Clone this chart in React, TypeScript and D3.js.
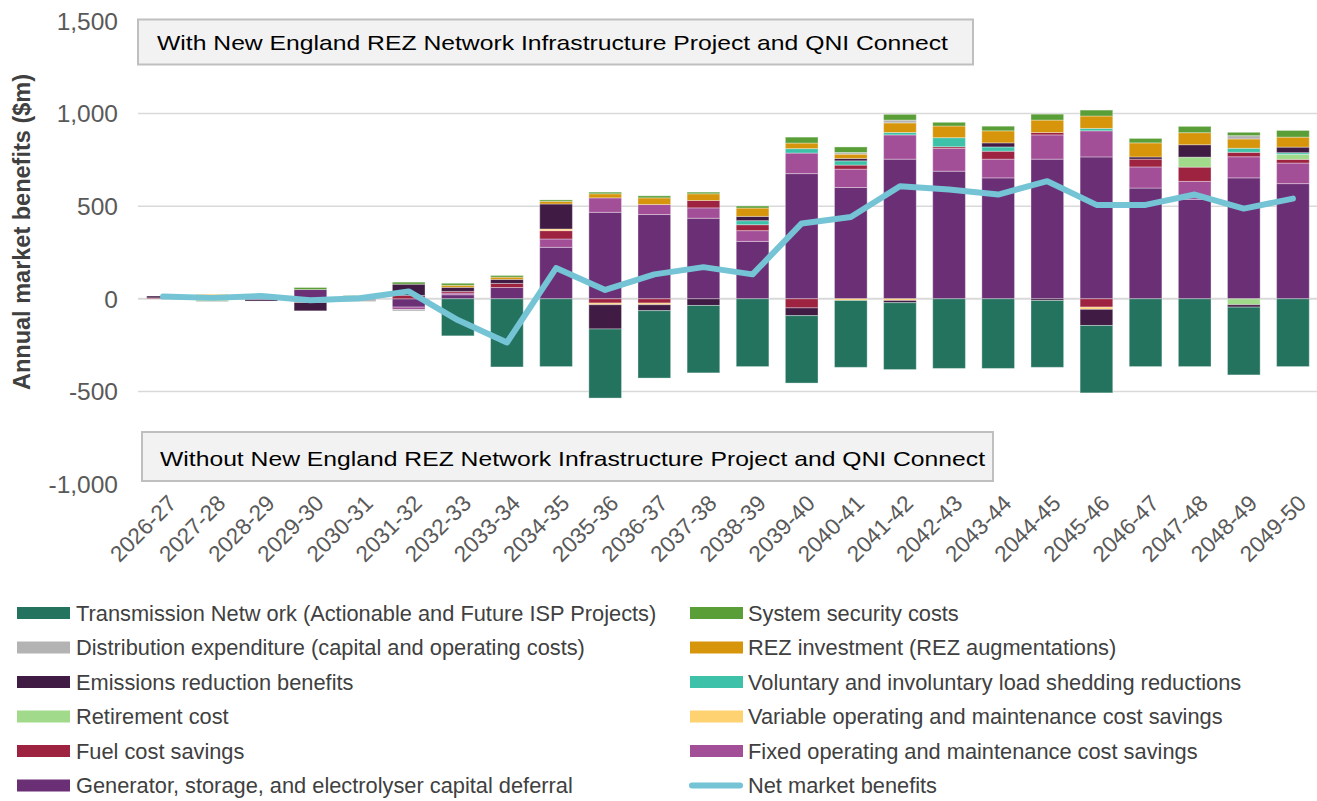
import React from "react";
import * as d3 from "d3";

const categories = ["2026-27","2027-28","2028-29","2029-30","2030-31","2031-32","2032-33","2033-34","2034-35","2035-36","2036-37","2037-38","2038-39","2039-40","2040-41","2041-42","2042-43","2043-44","2044-45","2045-46","2046-47","2047-48","2048-49","2049-50"];

const generator = [0, 0, -4, 50, 5, -45, 22, 61, 278, 467, 455, 435, 310, 676, 601, 754, 689, 653, 754, 766, 598, 537, 653, 622];
const fixedOM = [0, 0, 0, 0, 0, -13, 9, 0, 45, 78, 54, 56, 58, 111, 99, 131, 123, 101, 131, 141, 114, 97, 114, 111];
const fuel = [5, 0, 0, -15, 0, 18, 9, 22, 45, -23, -23, 40, 32, -49, 22, 0, 9, 43, 13, -45, 42, 77, 24, 20];
const variableOM = [0, 25, 0, -5, 0, 0, 0, 0, 9, -9, -9, 0, 0, 0, -9, -9, 0, 0, 0, -12, 0, 0, 0, 0];
const retirement = [0, -12, 0, 0, 0, 0, 0, 0, 0, 0, 0, 0, 0, 0, 0, 0, 0, 0, 0, 0, 0, 54, -32, 27];
const voluntary = [0, 0, 0, 0, 0, 0, 0, 0, 0, 0, 0, 0, 22, 24, 23, 13, 49, 23, 0, 13, 0, 0, 22, 9];
const emissions = [10, 0, -8, -45, -5, 61, 22, 22, 135, -131, -32, -36, 23, -42, 13, -12, 0, 22, -9, -87, 12, 67, -13, 30];
const rezInvestment = [0, 0, 0, 0, 0, 0, 11, 12, 14, 22, 36, 36, 45, 30, 23, 52, 63, 65, 67, 67, 76, 65, 50, 54];
const distribution = [0, -4, 0, 0, -10, -8, 0, 0, 0, 0, 0, 0, 0, 0, 9, 15, 0, 0, 0, 0, 0, 0, 18, 0];
const systemSecurity = [0, 0, 0, 11, 12, 11, 11, 9, 8, 9, 11, 9, 11, 32, 30, 31, 20, 25, 32, 32, 24, 34, 18, 36];
const transmission = [0, 0, 0, 0, 0, 0, -200, -368, -366, -373, -364, -364, -366, -364, -361, -361, -376, -376, -361, -364, -366, -366, -366, -366];
const netBenefits = [12, 5, 15, -8, 3, 40, -115, -236, 166, 48, 132, 171, 132, 407, 442, 608, 590, 563, 635, 507, 507, 563, 487, 541];

const yTicks = [-1000, -500, 0, 500, 1000, 1500];
const gridTicks = [-500, 0, 500, 1000];

const seriesDefs = [
  { key: "generator", label: "Generator, storage, and electrolyser capital deferral", color: "#6B2F76", values: generator },
  { key: "fixedOM", label: "Fixed operating and maintenance cost savings", color: "#A24F98", values: fixedOM },
  { key: "fuel", label: "Fuel cost savings", color: "#9D2340", values: fuel },
  { key: "variableOM", label: "Variable operating and maintenance cost savings", color: "#FFD271", values: variableOM },
  { key: "retirement", label: "Retirement cost", color: "#A0DA8A", values: retirement },
  { key: "voluntary", label: "Voluntary and involuntary load shedding reductions", color: "#3EC1A9", values: voluntary },
  { key: "emissions", label: "Emissions reduction benefits", color: "#401C44", values: emissions },
  { key: "rez", label: "REZ investment (REZ augmentations)", color: "#D6950A", values: rezInvestment },
  { key: "distribution", label: "Distribution expenditure (capital and operating costs)", color: "#B3B3B3", values: distribution },
  { key: "systemSecurity", label: "System security costs", color: "#5A9E37", values: systemSecurity },
  { key: "transmission", label: "Transmission Netw ork (Actionable and Future ISP Projects)", color: "#23735F", values: transmission },
];

const netColor = "#74C4D5";

const legendLeft = ["transmission", "distribution", "emissions", "retirement", "fuel", "generator"];
const legendRight = ["systemSecurity", "rez", "voluntary", "variableOM", "fixedOM", "net"];

const fmtTick = (t: number) => d3.format(",")(Math.abs(t)).replace(/^/, t < 0 ? "-" : "");

export default function App() {
  const W = 1317, H = 801;
  const x = d3.scaleBand<string>().domain(categories).range([138.5, 1317.5]).paddingInner(0.335).paddingOuter(0.1675);
  const y = d3.scaleLinear().domain([-1000, 1500]).range([484, 21]);

  const table = categories.map((c, i) => {
    const row: any = { cat: c };
    seriesDefs.forEach(s => { row[s.key] = s.values[i]; });
    return row;
  });
  const stack = d3.stack<any>().keys(seriesDefs.map(s => s.key)).offset(d3.stackOffsetDiverging);
  const stacked = stack(table);

  const line = d3.line<number>()
    .x((_, i) => (x(categories[i]) as number) + x.bandwidth() / 2)
    .y(d => y(d));

  const font = "'Liberation Sans', Arial, sans-serif";
  const rowY = (i: number) => 613 + i * 34.5;
  const defByKey: any = {};
  seriesDefs.forEach(s => (defByKey[s.key] = s));

  const renderLegendItem = (key: string, i: number, sx: number, tx: number) => {
    const cy = rowY(i);
    if (key === "net") {
      return (
        <g key={key}>
          <line x1={sx + 2} x2={sx + 50} y1={cy} y2={cy} stroke={netColor} strokeWidth={6} strokeLinecap="round" />
          <text x={tx} y={cy} dy="0.36em" fontSize={21.8} fill="#404040" fontFamily={font}>Net market benefits</text>
        </g>
      );
    }
    const d = defByKey[key];
    return (
      <g key={key}>
        <rect x={sx} y={cy - 6} width={53} height={12} fill={d.color} />
        <text x={tx} y={cy} dy="0.36em" fontSize={21.8} fill="#404040" fontFamily={font}>{d.label}</text>
      </g>
    );
  };

  return (
    <svg width={W} height={H} style={{ position: "absolute", left: 0, top: 0, background: "#fff" }} fontFamily={font}>
      {gridTicks.map(t => (
        <line key={t} x1={138} x2={1317} y1={y(t)} y2={y(t)} stroke="#D9D9D9" strokeWidth={t === 0 ? 2 : 1.5} />
      ))}
      {yTicks.map(t => (
        <text key={t} x={118} y={y(t)} dy="0.36em" textAnchor="end" fontSize={24.5} fill="#595959">{fmtTick(t)}</text>
      ))}
      <text transform="translate(30,232) rotate(-90)" textAnchor="middle" fontSize={23.5} fontWeight="bold" fill="#404040">Annual market benefits ($m)</text>

      {stacked.map(layer => {
        const def = defByKey[layer.key];
        return (
          <g key={layer.key}>
            {layer.map((d, i) => {
              const v = def.values[i];
              if (!v) return null;
              const y0 = y(d[0]), y1 = y(d[1]);
              return (
                <rect key={i} x={x(categories[i])} width={x.bandwidth()} y={Math.min(y0, y1)} height={Math.abs(y1 - y0)}
                  fill={def.color} stroke="#ffffff" strokeOpacity={0.35} strokeWidth={1} />
              );
            })}
          </g>
        );
      })}

      <path d={line(netBenefits) || ""} fill="none" stroke={netColor} strokeWidth={6} strokeLinejoin="round" strokeLinecap="round" />

      <g>
        <rect x={138} y={19.5} width={835} height={45} fill="#F2F2F2" stroke="#BFBFBF" strokeWidth={2} />
        <text x={157} y={42} dy="0.36em" fontSize={21} fill="#000" textLength={791} lengthAdjust="spacingAndGlyphs">With New England REZ Network Infrastructure Project and QNI Connect</text>
        <rect x={142} y={432} width={851} height={49} fill="#F2F2F2" stroke="#BFBFBF" strokeWidth={2} />
        <text x={160} y={458} dy="0.36em" fontSize={21} fill="#000" textLength={825} lengthAdjust="spacingAndGlyphs">Without New England REZ Network Infrastructure Project and QNI Connect</text>
      </g>

      {categories.map(c => {
        const cx = (x(c) as number) + x.bandwidth() / 2;
        return (
          <text key={c} transform={`translate(${cx + 9},${499}) rotate(-45)`} textAnchor="end" dy="0.36em" fontSize={22.5} fill="#595959">{c}</text>
        );
      })}

      {legendLeft.map((k, i) => renderLegendItem(k, i, 17, 76))}
      {legendRight.map((k, i) => renderLegendItem(k, i, 690, 748))}
    </svg>
  );
}
